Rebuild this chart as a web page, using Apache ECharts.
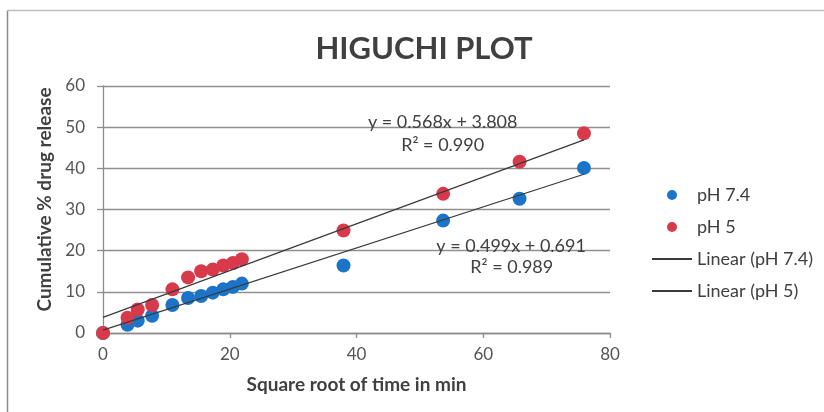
<!DOCTYPE html>
<html>
<head>
<meta charset="utf-8">
<title>Higuchi plot</title>
<script src="https://cdn.jsdelivr.net/npm/echarts@6/dist/echarts.min.js"></script>
<style>
  html, body { margin: 0; padding: 0; background: #ffffff; }
  #chart { width: 824px; height: 412px; }
</style>
</head>
<body>
<div id="chart"></div>
<script>
// Square root of sampling time (min)
const sqrtTime = [0, 3.87, 5.48, 7.75, 10.95, 13.42, 15.49, 17.32, 18.97, 20.49, 21.91, 37.95, 53.67, 65.73, 75.89];
// Cumulative % drug release
const releasePH74 = [0, 2.0, 3.0, 4.2, 6.8, 8.5, 9.0, 9.8, 10.6, 11.2, 12.0, 16.4, 27.3, 32.6, 40.1];
const releasePH5 = [0, 3.7, 5.7, 6.8, 10.6, 13.5, 15.0, 15.4, 16.4, 17.0, 17.9, 24.9, 33.8, 41.6, 48.5];
// Linear fit coefficients [slope, intercept, R²]
const fitPH74 = [0.499, 0.691, 0.989];
const fitPH5 = [0.568, 3.808, 0.990];
const seriesNames = ['pH 7.4', 'pH 5', 'Linear (pH 7.4)', 'Linear (pH 5)'];
const xTicks = [0, 20, 40, 60, 80];
const yTicks = [0, 10, 20, 30, 40, 50, 60];

const FONT = 'Lato, "Open Sans", sans-serif';
const TEXT = '#404040';
const BLUE = '#1c74c8';
const RED = '#d83a4b';
const TREND = '#3a3a3a';

function pairs(xs, ys) { return xs.map((x, i) => [x, ys[i]]); }
function fitLine(xs, fit) {
  const x0 = xs[0], x1 = xs[xs.length - 1];
  return [[x0, fit[0] * x0 + fit[1]], [x1, fit[0] * x1 + fit[1]]];
}
function eqText(fit) {
  return 'y = ' + fit[0].toFixed(3) + 'x + ' + fit[1].toFixed(3);
}

const chart = echarts.init(document.getElementById('chart'), null, { renderer: 'canvas' });

const option = {
  backgroundColor: '#ffffff',
  animation: false,
  textStyle: { fontFamily: FONT },
  title: {
    text: 'HIGUCHI PLOT',
    left: 419, top: 28, textAlign: 'center',
    textStyle: { fontFamily: FONT, fontSize: 31, fontWeight: 'bold', color: TEXT }
  },
  legend: {
    orient: 'vertical',
    left: 646, top: 181,
    itemWidth: 40, itemHeight: 10, itemGap: 14,
    textStyle: { fontFamily: FONT, fontSize: 18, color: TEXT, lineHeight: 18 },
    data: [
      { name: seriesNames[0] },
      { name: seriesNames[1] },
      { name: seriesNames[2], itemStyle: { opacity: 0 } },
      { name: seriesNames[3], itemStyle: { opacity: 0 } }
    ]
  },
  grid: { left: 103, right: 214, top: 86, bottom: 79, containLabel: false },
  xAxis: {
    type: 'value', min: xTicks[0], max: xTicks[xTicks.length - 1], interval: 20,
    name: 'Square root of time in min', nameLocation: 'middle', nameGap: 42,
    nameTextStyle: { fontFamily: FONT, fontSize: 19, fontWeight: 'bold', color: TEXT },
    axisLine: { show: true, onZero: false, lineStyle: { color: '#8c8c8c', width: 1.3 } },
    axisTick: { show: true, inside: false, length: 5, lineStyle: { color: '#8c8c8c', width: 1.3 } },
    axisLabel: { margin: 13, fontFamily: FONT, fontSize: 17, color: '#555555' },
    splitLine: { show: false }
  },
  yAxis: {
    type: 'value', min: yTicks[0], max: yTicks[yTicks.length - 1], interval: 10,
    name: 'Cumulative % drug release', nameLocation: 'middle', nameGap: 46,
    nameTextStyle: { fontFamily: FONT, fontSize: 19, fontWeight: 'bold', color: TEXT, padding: [0, 0, 0, 20] },
    axisLine: { show: true, lineStyle: { color: '#8c8c8c', width: 1.3 } },
    axisTick: { show: true, inside: false, length: 6, lineStyle: { color: '#8c8c8c', width: 1.3 } },
    axisLabel: { margin: 18, fontFamily: FONT, fontSize: 17, color: '#555555' },
    splitLine: { show: true, lineStyle: { color: '#8f8f8f', width: 1.4 } }
  },
  series: [
    {
      name: seriesNames[0], type: 'scatter', symbol: 'circle', symbolSize: 14,
      itemStyle: { color: BLUE, opacity: 1 }, data: pairs(sqrtTime, releasePH74), z: 3
    },
    {
      name: seriesNames[1], type: 'scatter', symbol: 'circle', symbolSize: 14,
      itemStyle: { color: RED, opacity: 1 }, data: pairs(sqrtTime, releasePH5), z: 4
    },
    {
      name: seriesNames[2], type: 'line', symbol: 'none', silent: true,
      lineStyle: { color: TREND, width: 1.2 }, itemStyle: { color: TREND },
      data: fitLine(sqrtTime, fitPH74), z: 5
    },
    {
      name: seriesNames[3], type: 'line', symbol: 'none', silent: true,
      lineStyle: { color: TREND, width: 1.2 }, itemStyle: { color: TREND },
      data: fitLine(sqrtTime, fitPH5), z: 5
    }
  ]
};

chart.setOption(option);

// Trendline equations, anchored in data space
const eqAnchors = [
  { fit: fitPH5, at: [53.6, 51.2], r2At: [53.6, 45.6] },
  { fit: fitPH74, at: [64.4, 21.0], r2At: [64.5, 16.1] }
];
const extras = [];
eqAnchors.forEach(a => {
  const p1 = chart.convertToPixel({ gridIndex: 0 }, a.at);
  const p2 = chart.convertToPixel({ gridIndex: 0 }, a.r2At);
  extras.push({
    type: 'text', x: p1[0], y: p1[1], z: 10,
    style: { text: eqText(a.fit), fill: TEXT, font: '18px ' + FONT, textAlign: 'center', textVerticalAlign: 'middle' }
  });
  extras.push({
    type: 'text', x: p2[0], y: p2[1], z: 10,
    style: { text: 'R² = ' + a.fit[2].toFixed(3), fill: TEXT, font: '18px ' + FONT, textAlign: 'center', textVerticalAlign: 'middle' }
  });
});

// Chart-area frame
extras.push({
  type: 'line', z: 1, shape: { x1: 7.5, y1: 10.5, x2: 7.5, y2: 412 },
  style: { stroke: '#8a8a8a', lineWidth: 1.5 }
});
extras.push({
  type: 'line', z: 1, shape: { x1: 7.5, y1: 10.5, x2: 824, y2: 10.5 },
  style: { stroke: '#bdbdbd', lineWidth: 1.5 }
});

chart.setOption({ graphic: extras });
</script>
</body>
</html>
